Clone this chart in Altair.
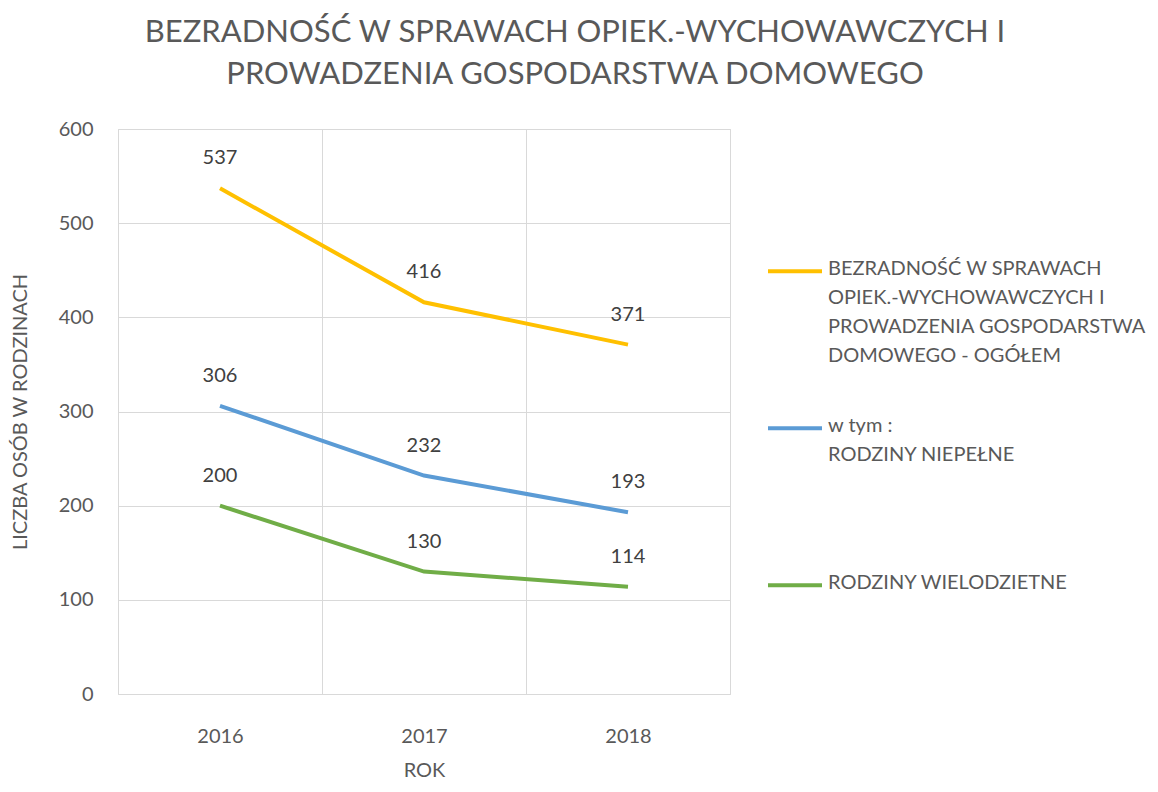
import altair as alt
import pandas as pd

years = ["2016", "2017", "2018"]
ogolem = [537, 416, 371]
niepelne = [306, 232, 193]
wielodzietne = [200, 130, 114]

series_names = [
    "BEZRADNOŚĆ W SPRAWACH|OPIEK.-WYCHOWAWCZYCH I|PROWADZENIA GOSPODARSTWA|DOMOWEGO - OGÓŁEM",
    "w tym :|RODZINY NIEPEŁNE",
    "RODZINY WIELODZIETNE",
]
series_colors = ["#FFC000", "#5B9BD5", "#70AD47"]

rows = []
for name, vals in zip(series_names, [ogolem, niepelne, wielodzietne]):
    for y, v in zip(years, vals):
        rows.append({"rok": y, "wartosc": v, "seria": name})
df = pd.DataFrame(rows)

FONT = "Lato"
GREY = "#595959"

x_enc = alt.X(
    "rok:O",
    scale=alt.Scale(type="band", paddingInner=0, paddingOuter=0),
    axis=alt.Axis(
        title="ROK", tickBand="extent", ticks=False, domain=False,
        labelAngle=0, labelPadding=32, titlePadding=14,
        grid=True, gridColor="#D9D9D9",
    ),
)
y_enc = alt.Y(
    "wartosc:Q",
    scale=alt.Scale(domain=[0, 600]),
    axis=alt.Axis(
        title="LICZBA OSÓB W RODZINACH", values=[0, 100, 200, 300, 400, 500, 600],
        ticks=False, domain=False, labelPadding=25, titlePadding=28,
        grid=True, gridColor="#D9D9D9",
    ),
)
color_enc = alt.Color(
    "seria:N",
    scale=alt.Scale(domain=series_names, range=series_colors),
    legend=alt.Legend(
        title=None, orient="none", legendX=648, legendY=101,
        labelExpr="split(datum.label, '|')",
        symbolType="M-1,0.45L1,0.45", symbolSize=2916, symbolStrokeWidth=4,
        labelBaseline="top", labelLimit=400, labelOffset=4,
        gridAlign="all", rowPadding=21, padding=0,
        labelFont=FONT, labelFontSize=20, labelColor=GREY,
    ),
)

base = alt.Chart(df)
lines = base.mark_line(strokeWidth=4).encode(x=x_enc, y=y_enc, color=color_enc)
labels = base.mark_text(dy=-30, font=FONT, fontSize=20, color="#404040", baseline="middle").encode(
    x=alt.X("rok:O"), y=alt.Y("wartosc:Q"), text=alt.Text("wartosc:Q")
)

chart = (
    alt.layer(lines, labels)
    .properties(
        width=612, height=565,
        autosize=alt.AutoSizeParams(type="none"),
        padding={"left": 110, "top": 121, "right": 420, "bottom": 88},
        title=alt.Title(
            ["BEZRADNOŚĆ W SPRAWACH OPIEK.-WYCHOWAWCZYCH I", "PROWADZENIA GOSPODARSTWA DOMOWEGO"],
            font=FONT, fontSize=31, fontWeight="normal", color=GREY,
            lineHeight=42, anchor="middle", dx=151, offset=28,
        ),
    )
    .configure(background="white", style={"guide-label": {"lineHeight": 29}})
    .configure_view(stroke="#D9D9D9")
    .configure_axis(labelFont=FONT, labelFontSize=20, labelColor=GREY,
                    titleFont=FONT, titleFontSize=20, titleColor=GREY, titleFontWeight="normal")
)

chart.save("out.html", embed_options={"renderer": "svg", "actions": False})
